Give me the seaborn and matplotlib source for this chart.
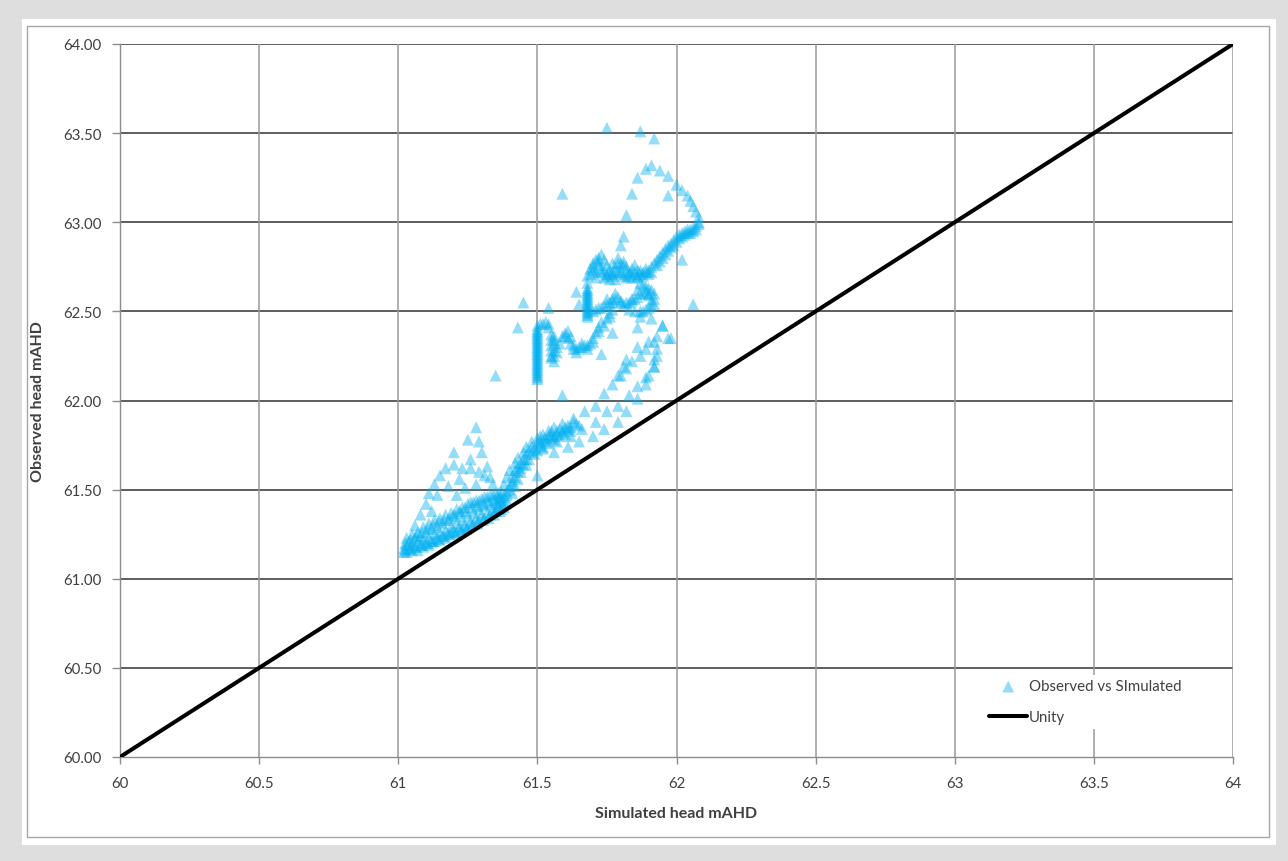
import matplotlib
matplotlib.use("Agg")
import matplotlib.pyplot as plt
from matplotlib.patches import Rectangle
import seaborn as sns
import pandas as pd

# ---- Observed vs simulated heads (mAHD), grouped by stretch of the record ----
# lower-left dense band
band_sim = [61.02, 61.02, 61.03, 61.03, 61.04, 61.04, 61.05, 61.05, 61.06, 61.06, 61.07, 61.07,
            61.08, 61.08, 61.09, 61.09, 61.10, 61.10, 61.11, 61.11, 61.12, 61.12, 61.13, 61.13,
            61.14, 61.14, 61.15, 61.15, 61.16, 61.16, 61.17, 61.17, 61.18, 61.18, 61.19, 61.19,
            61.20, 61.20, 61.21, 61.21, 61.22, 61.22, 61.23, 61.23, 61.24, 61.24, 61.25, 61.25,
            61.26, 61.26, 61.27, 61.27, 61.28, 61.28, 61.29, 61.29, 61.30, 61.30, 61.31, 61.31,
            61.32, 61.32, 61.33, 61.33, 61.34, 61.34, 61.35, 61.35, 61.36, 61.36, 61.37, 61.37,
            61.03, 61.05, 61.07, 61.09, 61.11, 61.13, 61.15, 61.17, 61.19, 61.21, 61.23, 61.25,
            61.27, 61.29, 61.31, 61.33, 61.35]
band_obs = [61.15, 61.17, 61.19, 61.15, 61.17, 61.21, 61.16, 61.19, 61.23, 61.18, 61.16, 61.21,
            61.19, 61.24, 61.18, 61.22, 61.26, 61.20, 61.19, 61.23, 61.28, 61.21, 61.25, 61.21,
            61.23, 61.29, 61.22, 61.26, 61.31, 61.24, 61.27, 61.23, 61.25, 61.33, 61.29, 61.26,
            61.36, 61.27, 61.31, 61.26, 61.29, 61.38, 61.33, 61.28, 61.40, 61.30, 61.35, 61.29,
            61.32, 61.43, 61.37, 61.31, 61.44, 61.34, 61.39, 61.33, 61.36, 61.45, 61.41, 61.34,
            61.46, 61.37, 61.42, 61.36, 61.39, 61.47, 61.44, 61.38, 61.41, 61.48, 61.46, 61.39,
            61.23, 61.25, 61.26, 61.29, 61.31, 61.33, 61.34, 61.36, 61.37, 61.39, 61.40, 61.42,
            61.43, 61.44, 61.46, 61.47, 61.48]
band_fill_sim = [61.025, 61.045, 61.065, 61.085, 61.105, 61.125, 61.145, 61.165, 61.185, 61.205,
                 61.225, 61.245, 61.265, 61.285, 61.305, 61.325, 61.345, 61.365,
                 61.025, 61.045, 61.065, 61.085, 61.105, 61.125, 61.145, 61.165, 61.185, 61.205,
                 61.225, 61.245, 61.265, 61.285, 61.305, 61.325, 61.345, 61.365]
band_fill_obs = [61.16, 61.17, 61.18, 61.19, 61.20, 61.21, 61.22, 61.24, 61.25, 61.26,
                 61.27, 61.28, 61.30, 61.31, 61.33, 61.34, 61.36, 61.38,
                 61.20, 61.22, 61.24, 61.26, 61.28, 61.30, 61.32, 61.33, 61.34, 61.35,
                 61.37, 61.38, 61.40, 61.41, 61.42, 61.43, 61.44, 61.45]

# sparse hump above the band
hump_sim = [61.08, 61.10, 61.11, 61.13, 61.15, 61.17, 61.20, 61.25, 61.28, 61.29, 61.26, 61.30,
            61.32, 61.31, 61.22, 61.20, 61.23, 61.26, 61.29, 61.33, 61.24, 61.18, 61.28, 61.34,
            61.14, 61.21, 61.06, 61.12]
hump_obs = [61.36, 61.42, 61.48, 61.53, 61.58, 61.62, 61.71, 61.78, 61.85, 61.77, 61.67, 61.71,
            61.63, 61.58, 61.56, 61.64, 61.62, 61.62, 61.60, 61.57, 61.51, 61.52, 61.53, 61.53,
            61.47, 61.47, 61.30, 61.38]

# steep rise near 61.4 - 61.6
rise_sim = [61.35, 61.37, 61.38, 61.39, 61.40, 61.41, 61.41, 61.42, 61.43, 61.44, 61.45, 61.46,
            61.47, 61.48, 61.50, 61.51, 61.52, 61.54, 61.55, 61.57, 61.58, 61.60, 61.61, 61.63,
            61.38, 61.39, 61.41, 61.42, 61.43, 61.44, 61.46, 61.47, 61.49, 61.50, 61.52, 61.54,
            61.56, 61.58, 61.60, 61.62, 61.36, 61.37, 61.38, 61.39, 61.40, 61.42, 61.43, 61.45,
            61.46, 61.48, 61.50, 61.52, 61.54, 61.56,
            61.36, 61.38, 61.39, 61.40, 61.41, 61.42, 61.43, 61.44, 61.45, 61.46, 61.48, 61.49,
            61.51, 61.53, 61.55, 61.57, 61.59, 61.61, 61.53, 61.56, 61.59, 61.62, 61.64, 61.65]
rise_obs = [61.39, 61.43, 61.46, 61.49, 61.52, 61.55, 61.58, 61.61, 61.63, 61.65, 61.67, 61.70,
            61.72, 61.74, 61.76, 61.77, 61.78, 61.80, 61.81, 61.83, 61.84, 61.85, 61.86, 61.88,
            61.40, 61.44, 61.48, 61.52, 61.56, 61.60, 61.64, 61.67, 61.70, 61.72, 61.74, 61.76,
            61.78, 61.80, 61.81, 61.83, 61.45, 61.49, 61.53, 61.57, 61.61, 61.65, 61.68, 61.71,
            61.74, 61.77, 61.79, 61.81, 61.83, 61.85,
            61.42, 61.43, 61.47, 61.50, 61.53, 61.57, 61.60, 61.62, 61.64, 61.67, 61.71, 61.73,
            61.75, 61.77, 61.79, 61.81, 61.82, 61.84, 61.79, 61.80, 61.83, 61.85, 61.87, 61.86]

# three sparse recession tracks heading up-right
tracks_sim = [61.51, 61.55, 61.59, 61.63, 61.67, 61.71, 61.74, 61.77, 61.80, 61.82, 61.84, 61.87,
              61.89, 61.90, 61.93, 61.95,
              61.52, 61.57, 61.62, 61.66, 61.71, 61.75, 61.79, 61.83, 61.86, 61.89, 61.92, 61.92,
              61.93, 61.97,
              61.56, 61.61, 61.65, 61.70, 61.74, 61.79, 61.82, 61.86, 61.89]
tracks_obs = [61.80, 61.83, 61.87, 61.90, 61.94, 61.97, 62.04, 62.09, 62.14, 62.18, 62.22, 62.25,
              62.29, 62.33, 62.36, 62.42,
              61.73, 61.77, 61.80, 61.84, 61.88, 61.94, 61.97, 62.03, 62.08, 62.13, 62.19, 62.23,
              62.29, 62.35,
              61.71, 61.74, 61.77, 61.80, 61.84, 61.88, 61.94, 62.01, 62.09]

# vertical stack at 61.50
stack1_sim = [61.50, 61.50, 61.50, 61.50, 61.50, 61.50, 61.50, 61.50, 61.50, 61.50, 61.50, 61.50,
              61.50, 61.50, 61.50, 61.50, 61.50, 61.50, 61.50, 61.50, 61.50, 61.50, 61.50, 61.50,
              61.50, 61.50, 61.50, 61.50, 61.50, 61.50]
stack1_obs = [62.12, 62.14, 62.16, 62.18, 62.20, 62.22, 62.24, 62.26, 62.28, 62.30, 62.32, 62.34,
              62.36, 62.38, 62.40, 62.42, 62.13, 62.15, 62.17, 62.19, 62.21, 62.23, 62.25, 62.27,
              62.29, 62.31, 62.33, 62.35, 62.37, 62.39]

# jagged stretch between the stacks
jag_sim = [61.51, 61.53, 61.54, 61.55, 61.55, 61.55, 61.56, 61.56, 61.56, 61.57, 61.58, 61.59,
           61.60, 61.61, 61.61, 61.62, 61.63, 61.64, 61.65, 61.66, 61.67, 61.68, 61.69, 61.70,
           61.71, 61.72, 61.73, 61.75, 61.76, 61.77, 61.55, 61.56,
           61.55, 61.55, 61.56, 61.56, 61.57, 61.60, 61.62, 61.63, 61.64, 61.66, 61.68, 61.70,
           61.72, 61.74, 61.76, 61.52, 61.54]
jag_obs = [62.43, 62.44, 62.41, 62.37, 62.34, 62.31, 62.28, 62.25, 62.22, 62.27, 62.32, 62.36,
           62.38, 62.39, 62.35, 62.32, 62.29, 62.27, 62.30, 62.32, 62.31, 62.29, 62.32, 62.35,
           62.38, 62.41, 62.44, 62.46, 62.49, 62.51, 62.25, 62.34,
           62.24, 62.28, 62.32, 62.36, 62.30, 62.36, 62.36, 62.31, 62.29, 62.30, 62.31, 62.33,
           62.39, 62.42, 62.47, 62.43, 62.43]

# vertical stack at 61.68
stack2_sim = [61.68, 61.68, 61.68, 61.68, 61.68, 61.68, 61.68, 61.68, 61.68,
              61.68, 61.68, 61.68, 61.68, 61.68, 61.68, 61.68, 61.68]
stack2_obs = [62.47, 62.49, 62.51, 62.53, 62.55, 62.57, 62.59, 62.61, 62.63,
              62.48, 62.50, 62.52, 62.54, 62.56, 62.58, 62.60, 62.62]

# middle loop
loop_sim = [61.70, 61.72, 61.74, 61.76, 61.77, 61.79, 61.80, 61.81, 61.83, 61.84, 61.86, 61.87,
            61.89, 61.90, 61.91, 61.91, 61.89, 61.87, 61.85, 61.83, 61.78, 61.75, 61.87, 61.89,
            61.91, 61.92,
            61.71, 61.73, 61.75, 61.77, 61.78, 61.80, 61.82, 61.84, 61.85, 61.88, 61.90, 61.92,
            61.92, 61.90, 61.88, 61.86, 61.88, 61.90]
loop_obs = [62.50, 62.52, 62.53, 62.55, 62.57, 62.58, 62.56, 62.54, 62.55, 62.57, 62.58, 62.60,
            62.61, 62.59, 62.56, 62.53, 62.51, 62.50, 62.50, 62.51, 62.60, 62.57, 62.66, 62.64,
            62.62, 62.60,
            62.51, 62.52, 62.54, 62.55, 62.57, 62.55, 62.55, 62.56, 62.57, 62.60, 62.60, 62.57,
            62.54, 62.52, 62.50, 62.62, 62.65, 62.63]

# upper plateau and climb to 63
plateau_sim = [61.68, 61.68, 61.69, 61.70, 61.71, 61.72, 61.73, 61.74, 61.75, 61.73, 61.74, 61.75,
               61.76, 61.77, 61.78, 61.79, 61.79, 61.80, 61.81, 61.82, 61.83, 61.84, 61.85, 61.86,
               61.87, 61.88, 61.89, 61.90, 61.91, 61.92, 61.93, 61.94, 61.95, 61.96, 61.97, 61.98,
               61.99, 62.00, 62.01, 62.02, 62.03, 62.04, 62.05, 62.06, 62.07, 62.08, 62.08,
               61.70, 61.71, 61.72, 61.76, 61.78, 61.80, 61.82, 61.84, 61.86, 61.77, 61.81,
               61.69, 61.70, 61.71, 61.72, 61.73, 61.74, 61.75, 61.76, 61.77, 61.78, 61.79, 61.80,
               61.81, 61.82, 61.83, 61.84, 61.85, 61.86, 61.87, 61.88, 61.89, 61.90, 61.91, 61.93,
               61.94, 61.95, 61.96, 61.97, 61.98, 61.99, 62.00, 62.01, 62.02, 62.03, 62.04, 62.05,
               62.06, 62.07]
plateau_obs = [62.66, 62.70, 62.74, 62.77, 62.79, 62.80, 62.82, 62.79, 62.76, 62.72, 62.69, 62.70,
               62.73, 62.70, 62.75, 62.80, 62.77, 62.73, 62.70, 62.69, 62.72, 62.74, 62.76, 62.73,
               62.71, 62.70, 62.72, 62.73, 62.75, 62.77, 62.79, 62.81, 62.83, 62.85, 62.87, 62.88,
               62.90, 62.92, 62.93, 62.94, 62.95, 62.96, 62.96, 62.97, 62.98, 62.99, 63.00,
               62.73, 62.69, 62.76, 62.68, 62.68, 62.77, 62.75, 62.69, 62.69, 62.72, 62.78,
               62.71, 62.75, 62.72, 62.78, 62.74, 62.73, 62.71, 62.71, 62.77, 62.72, 62.72, 62.71,
               62.76, 62.72, 62.70, 62.71, 62.72, 62.70, 62.73, 62.72, 62.74, 62.71, 62.72, 62.76,
               62.78, 62.80, 62.82, 62.84, 62.86, 62.87, 62.89, 62.91, 62.92, 62.93, 62.94, 62.94,
               62.95, 62.96]

# sparse arc over the top
arc_sim = [62.08, 62.07, 62.06, 62.05, 62.04, 62.02, 62.00, 61.97, 61.94, 61.91, 61.89, 61.86,
           61.84, 61.82, 61.81, 61.80, 61.97, 61.75, 61.87, 61.92]
arc_obs = [63.03, 63.06, 63.09, 63.12, 63.15, 63.18, 63.21, 63.26, 63.29, 63.32, 63.30, 63.25,
           63.16, 63.04, 62.92, 62.87, 63.15, 63.53, 63.51, 63.47]

# scattered readings
loose_sim = [61.87, 61.91, 61.95, 61.98, 61.92, 61.86, 61.82, 61.77, 61.86, 61.93, 61.92, 61.90,
             61.81, 61.79, 61.73, 62.06, 62.02, 61.64, 61.65, 61.54, 61.45, 61.43, 61.59, 61.35,
             61.59, 61.50]
loose_obs = [62.47, 62.46, 62.42, 62.35, 62.33, 62.30, 62.23, 62.38, 62.41, 62.25, 62.19, 62.14,
             62.19, 62.14, 62.26, 62.54, 62.79, 62.61, 62.54, 62.52, 62.55, 62.41, 63.16, 62.14,
             62.03, 61.58]

# 1:1 reference line
unity = [60.0, 64.0]

x_ticks = [60, 60.5, 61, 61.5, 62, 62.5, 63, 63.5, 64]
x_labels = ["60", "60.5", "61", "61.5", "62", "62.5", "63", "63.5", "64"]
y_ticks = [60, 60.5, 61, 61.5, 62, 62.5, 63, 63.5, 64]
y_labels = ["60.00", "60.50", "61.00", "61.50", "62.00", "62.50", "63.00", "63.50", "64.00"]

sim = (band_sim + band_fill_sim + hump_sim + rise_sim + tracks_sim + stack1_sim + jag_sim
       + stack2_sim + loop_sim + plateau_sim + arc_sim + loose_sim)
obs = (band_obs + band_fill_obs + hump_obs + rise_obs + tracks_obs + stack1_obs + jag_obs
       + stack2_obs + loop_obs + plateau_obs + arc_obs + loose_obs)
heads = pd.DataFrame({"Simulated": sim, "Observed": obs})
line_df = pd.DataFrame({"x": unity, "y": unity})

sns.set_theme(style="white")
plt.rcParams["font.family"] = ["Lato", "DejaVu Sans"]

W, H = 1288, 862
fig = plt.figure(figsize=(W / 100, H / 100), dpi=100, facecolor="#dedede")

# white card with a thin grey frame, kept behind the axes
fig.patches.append(Rectangle((22 / W, (H - 846) / H), (1276 - 22) / W, (846 - 20) / H,
                             transform=fig.transFigure, facecolor="white", edgecolor="none",
                             zorder=-3))
fig.patches.append(Rectangle((27 / W, (H - 838) / H), (1269 - 27) / W, (838 - 27) / H,
                             transform=fig.transFigure, facecolor="none", edgecolor="#a6a6a6",
                             linewidth=1.0, zorder=-2))

ax = fig.add_axes([120 / W, (H - 758) / H, (1233 - 120) / W, (758 - 45) / H])
ax.set_facecolor("white")

sns.scatterplot(data=heads, x="Simulated", y="Observed", ax=ax, marker="^", s=74,
                color="#00b0f0", alpha=0.42, linewidth=0, edgecolor="none",
                label="Observed vs SImulated", zorder=3)
sns.lineplot(data=line_df, x="x", y="y", ax=ax, color="black", linewidth=2.9,
             label="Unity", zorder=4)

ax.set_xlim(60, 64)
ax.set_ylim(60, 64)
ax.set_xticks(x_ticks)
ax.set_xticklabels(x_labels)
ax.set_yticks(y_ticks)
ax.set_yticklabels(y_labels)

# grid: dark horizontal lines, lighter vertical lines
for v in y_ticks[1:]:
    ax.axhline(v, color="#505050", linewidth=1.3, zorder=1)
for v in x_ticks[1:]:
    ax.axvline(v, color="#9a9a9a", linewidth=1.1, zorder=1)

for side in ["top", "right"]:
    ax.spines[side].set_visible(False)
for side in ["left", "bottom"]:
    ax.spines[side].set_color("#8c8c8c")
    ax.spines[side].set_linewidth(1.0)

ax.tick_params(axis="x", which="major", direction="out", length=5, width=1.0, color="#8c8c8c",
               pad=9, labelsize=10.8, labelcolor="#404040", bottom=True)
ax.tick_params(axis="y", which="major", direction="out", length=6, width=1.0, color="#8c8c8c",
               pad=7, labelsize=10.8, labelcolor="#404040", left=True)

ax.set_xlabel("Simulated head mAHD", fontsize=11.5, fontweight="bold", color="#404040",
              labelpad=11)
ax.set_ylabel("Observed head mAHD", fontsize=11.5, fontweight="bold", color="#404040",
              labelpad=13)

leg = ax.legend(loc="upper left", bbox_to_anchor=((985 - 120) / (1233 - 120), (758 - 676) / (758 - 45)),
                frameon=True, fontsize=10.8, handlelength=2.5, handletextpad=0.15,
                labelspacing=1.1, borderpad=0.3, borderaxespad=0)
leg.get_frame().set_facecolor("white")
leg.get_frame().set_edgecolor("none")
leg.get_frame().set_alpha(1.0)
leg.set_zorder(5)
for t in leg.get_texts():
    t.set_color("#404040")

fig.savefig("out.png", dpi=100, facecolor=fig.get_facecolor())
